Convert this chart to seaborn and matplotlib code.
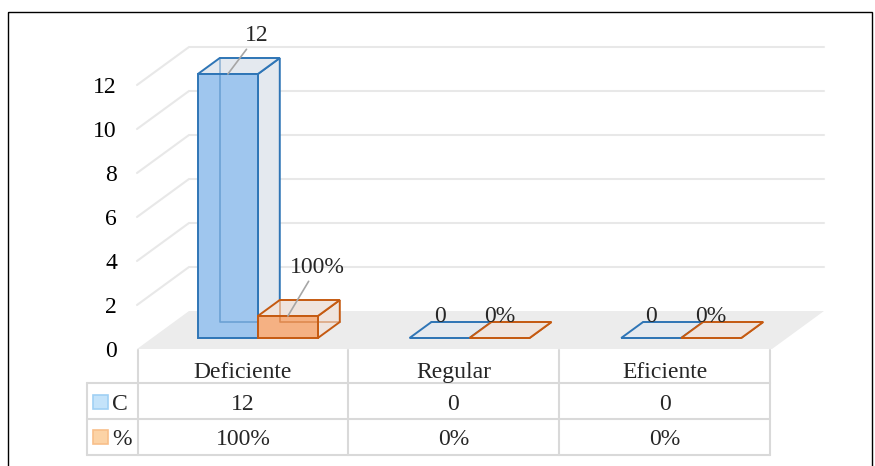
import numpy as np
import pandas as pd
import matplotlib.pyplot as plt
import seaborn as sns
from matplotlib.patches import Polygon, Rectangle
from matplotlib.lines import Line2D

# datos del grafico
categorias = ["Deficiente", "Regular", "Eficiente"]
series = ["C", "%"]
conteo = [12, 0, 0]
porcentaje = [1.0, 0.0, 0.0]          # 100%, 0%, 0% sobre el mismo eje
etiquetas_c = ["12", "0", "0"]
etiquetas_pct = ["100%", "0%", "0%"]
ticks_y = [0, 2, 4, 6, 8, 10, 12]

df = pd.DataFrame({
    "cat": categorias * 2,
    "serie": [series[0]] * 3 + [series[1]] * 3,
    "valor": conteo + porcentaje,
})

sns.set_theme(style="white")
plt.rcParams["font.family"] = ["Liberation Serif", "DejaVu Serif"]
FS = 17

azul, azul_borde, azul_lado = "#9fc6ee", "#2e75b6", "#e4e9ef"
naranja, naranja_borde, naranja_lado = "#f5b183", "#c55a11", "#efe4de"
gris_grid = "#e8e8e8"

fig = plt.figure(figsize=(8.75, 4.66), dpi=100)
ax = fig.add_axes([137 / 875, 117 / 466, 635 / 875, 308 / 466])

sns.barplot(data=df, x="cat", y="valor", hue="serie", palette=[azul, naranja],
            width=0.567, saturation=1, legend=False, ax=ax)
ax.set_xlim(-0.5, 2.5)
ax.set_ylim(0, 14)
ax.set_xlabel("")
ax.set_ylabel("")
ax.set_xticks([])
ax.set_yticks(ticks_y)
ax.tick_params(axis="y", length=0, pad=14.4, labelsize=FS, colors="black")
for s in ax.spines.values():
    s.set_visible(False)
ax.patch.set_alpha(0)

# profundidad (en px) convertida a unidades de datos
px_x = ax.bbox.width / 3.0
px_y = ax.bbox.height / 14.0
DX, DY = 52 / px_x, 38 / px_y
f1, f2 = 11 / 38, 27 / 38


def P(x, y, f):
    return (x + f * DX, y + f * DY)


# piso
ax.add_patch(Polygon([P(-0.5, 0, 0), P(2.5, 0, 0), P(2.5, 0, 1), P(-0.5, 0, 1)],
                     closed=True, fc="#ececec", ec="none", zorder=0.5, clip_on=False))
# lineas de division en paredes
for v in ticks_y[1:]:
    xs, ys = zip(P(-0.5, v, 0), P(-0.5, v, 1), P(2.5, v, 1))
    ax.add_line(Line2D(xs, ys, color=gris_grid, lw=1.5, zorder=0.6, clip_on=False))

# cajas 3D
colores = [(azul_borde, azul_lado), (naranja_borde, naranja_lado)]
for k, cont in enumerate(ax.containers):
    borde, lado = colores[k]
    for patch in cont:
        x0, w, h = patch.get_x(), patch.get_width(), patch.get_height()
        z = 2 + k
        lado_pts = [P(x0 + w, 0, f1), P(x0 + w, 0, f2), P(x0 + w, h, f2), P(x0 + w, h, f1)]
        tapa_pts = [P(x0, h, f1), P(x0 + w, h, f1), P(x0 + w, h, f2), P(x0, h, f2)]
        ax.add_patch(Polygon(lado_pts, closed=True, fc=lado, ec=borde, lw=1.4,
                             zorder=z + 0.1, clip_on=False))
        ax.add_patch(Polygon(tapa_pts, closed=True, fc=lado, ec=borde, lw=1.4,
                             zorder=z + 0.2, clip_on=False))
        patch.set_x(x0 + f1 * DX)
        patch.set_y(f1 * DY)
        patch.set_edgecolor(borde)
        patch.set_linewidth(1.4)
        patch.set_zorder(z + 0.3)
        patch.set_clip_on(False)
        # aristas ocultas vistas a traves
        xs, ys = zip(P(x0, h, f2), P(x0, 0, f2), P(x0 + w, 0, f2))
        ax.add_line(Line2D(xs, ys, color=borde, lw=1.2, alpha=0.45, zorder=z + 0.4,
                           clip_on=False))

# etiquetas de datos
for k, (cont, etiq) in enumerate(zip(ax.containers, [etiquetas_c, etiquetas_pct])):
    for patch, t in zip(cont, etiq):
        xc = patch.get_x() + patch.get_width() / 2
        yt = patch.get_y() + patch.get_height()
        if patch.get_height() > 0:
            dy = 33 if k == 0 else 43
            ax.annotate(t, (xc, yt), xytext=(29 * 0.72, dy * 0.72), textcoords="offset points",
                        ha="center", va="baseline", fontsize=FS, zorder=10,
                        arrowprops=dict(arrowstyle="-", color="#a6a6a6", lw=1.2,
                                        shrinkA=0, shrinkB=0))
        else:
            ax.annotate(t, (xc, yt), xytext=(0, 16 * 0.72), textcoords="offset points",
                        ha="center", va="baseline", fontsize=FS, zorder=10)

# tabla de datos y marco (en pixeles)
bg = fig.add_axes([0, 0, 1, 1], zorder=5)
bg.set_xlim(0, 875)
bg.set_ylim(466, 0)
bg.axis("off")
bg.patch.set_alpha(0)

cols_x = [138, 348, 559, 770]
filas_y = [350, 383, 419, 455]
leg_x = 87
gris_tabla = "#d9d9d9"
for x in cols_x:
    bg.plot([x, x], [filas_y[0], filas_y[-1]], color=gris_tabla, lw=1.5)
bg.plot([leg_x, leg_x], [filas_y[1], filas_y[-1]], color=gris_tabla, lw=1.5)
for y in filas_y[1:]:
    bg.plot([leg_x, cols_x[-1]], [y, y], color=gris_tabla, lw=1.5)

centros = [(cols_x[i] + cols_x[i + 1]) / 2 for i in range(3)]
for c, cat, a, b in zip(centros, categorias, etiquetas_c, etiquetas_pct):
    bg.text(c, 378, cat, ha="center", va="baseline", fontsize=FS)
    bg.text(c, 410, a, ha="center", va="baseline", fontsize=FS)
    bg.text(c, 445, b, ha="center", va="baseline", fontsize=FS)

leyenda = [("#c4e3fa", "#9fd0f4", 395, 410), ("#fcd3a6", "#f8bf8a", 430, 445)]
for (fc, ec, ytop, base), nombre in zip(leyenda, series):
    bg.add_patch(Rectangle((93, ytop), 15, 14, fc=fc, ec=ec, lw=1.2))
    bg.text(112, base, nombre, ha="left", va="baseline", fontsize=FS)

bg.add_patch(Rectangle((8, 12), 864, 470, fill=False, ec="black", lw=1.0, clip_on=False))

fig.savefig("out.png", dpi=100)
